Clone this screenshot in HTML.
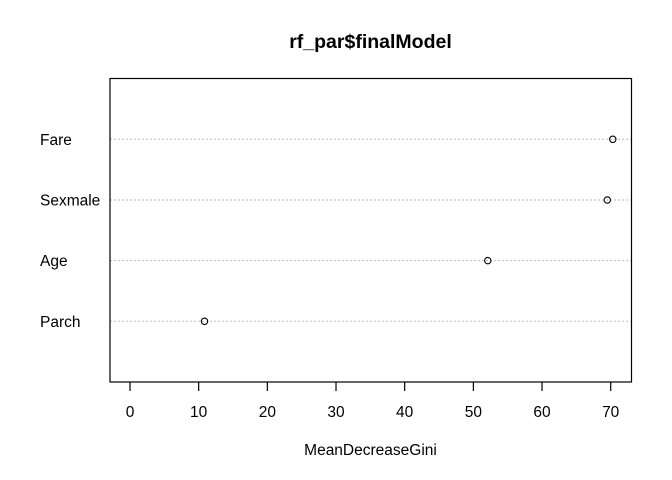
<!DOCTYPE html>
<html><head><meta charset="utf-8"><style>body{margin:0;background:#fff}svg{display:block;font-family:"Liberation Sans",Arial,sans-serif}</style></head>
<body>
<svg id="c" width="672" height="480" xmlns="http://www.w3.org/2000/svg">
<text x="370.5" y="48" text-anchor="middle" font-weight="bold" font-size="19.5">rf_par$finalModel</text>
<text x="370.5" y="455" text-anchor="middle" font-size="15.5">MeanDecreaseGini</text>
<g id="grid"></g><g id="pts"></g><g id="ax"></g><g id="lab"></g>
<rect x="110" y="78.5" width="521.5" height="303.5" fill="none" stroke="#000" stroke-width="1.2"/>
</svg>
<script>
const categories=["Fare","Sexmale","Age","Parch"];
const values=[70.3,69.5,52.1,10.85];
const ticks=[0,10,20,30,40,50,60,70];
const NS="http://www.w3.org/2000/svg";
const x=v=>130+v*(480.7/70);
const y=i=>139.3+i*60.67;
function mk(t,a,p){const e=document.createElementNS(NS,t);for(const k in a)e.setAttribute(k,a[k]);document.getElementById(p).appendChild(e);return e;}
categories.forEach((c,i)=>{
 const g=mk('line',{x1:110,x2:631.5,y1:y(i),y2:y(i),stroke:'#bebebe','stroke-dasharray':'2,2'},'grid');
 
 
 const p=mk('circle',{cx:x(values[i]),cy:y(i),r:3.2,fill:'none',stroke:'#000','stroke-width':1.1},'pts');
 
 
 const t=mk('text',{x:40,y:y(i)+5.5,'font-size':15.5},'lab');t.textContent=c;
 
 
});
ticks.forEach(v=>{
 const l=mk('line',{x1:x(v),x2:x(v),y1:382,y2:391,stroke:'#000','stroke-width':1.2},'ax');
 
 
 const t=mk('text',{x:x(v),y:417,'text-anchor':'middle','font-size':15.5},'ax');t.textContent=v;
 
 
});
</script>
</body></html>
